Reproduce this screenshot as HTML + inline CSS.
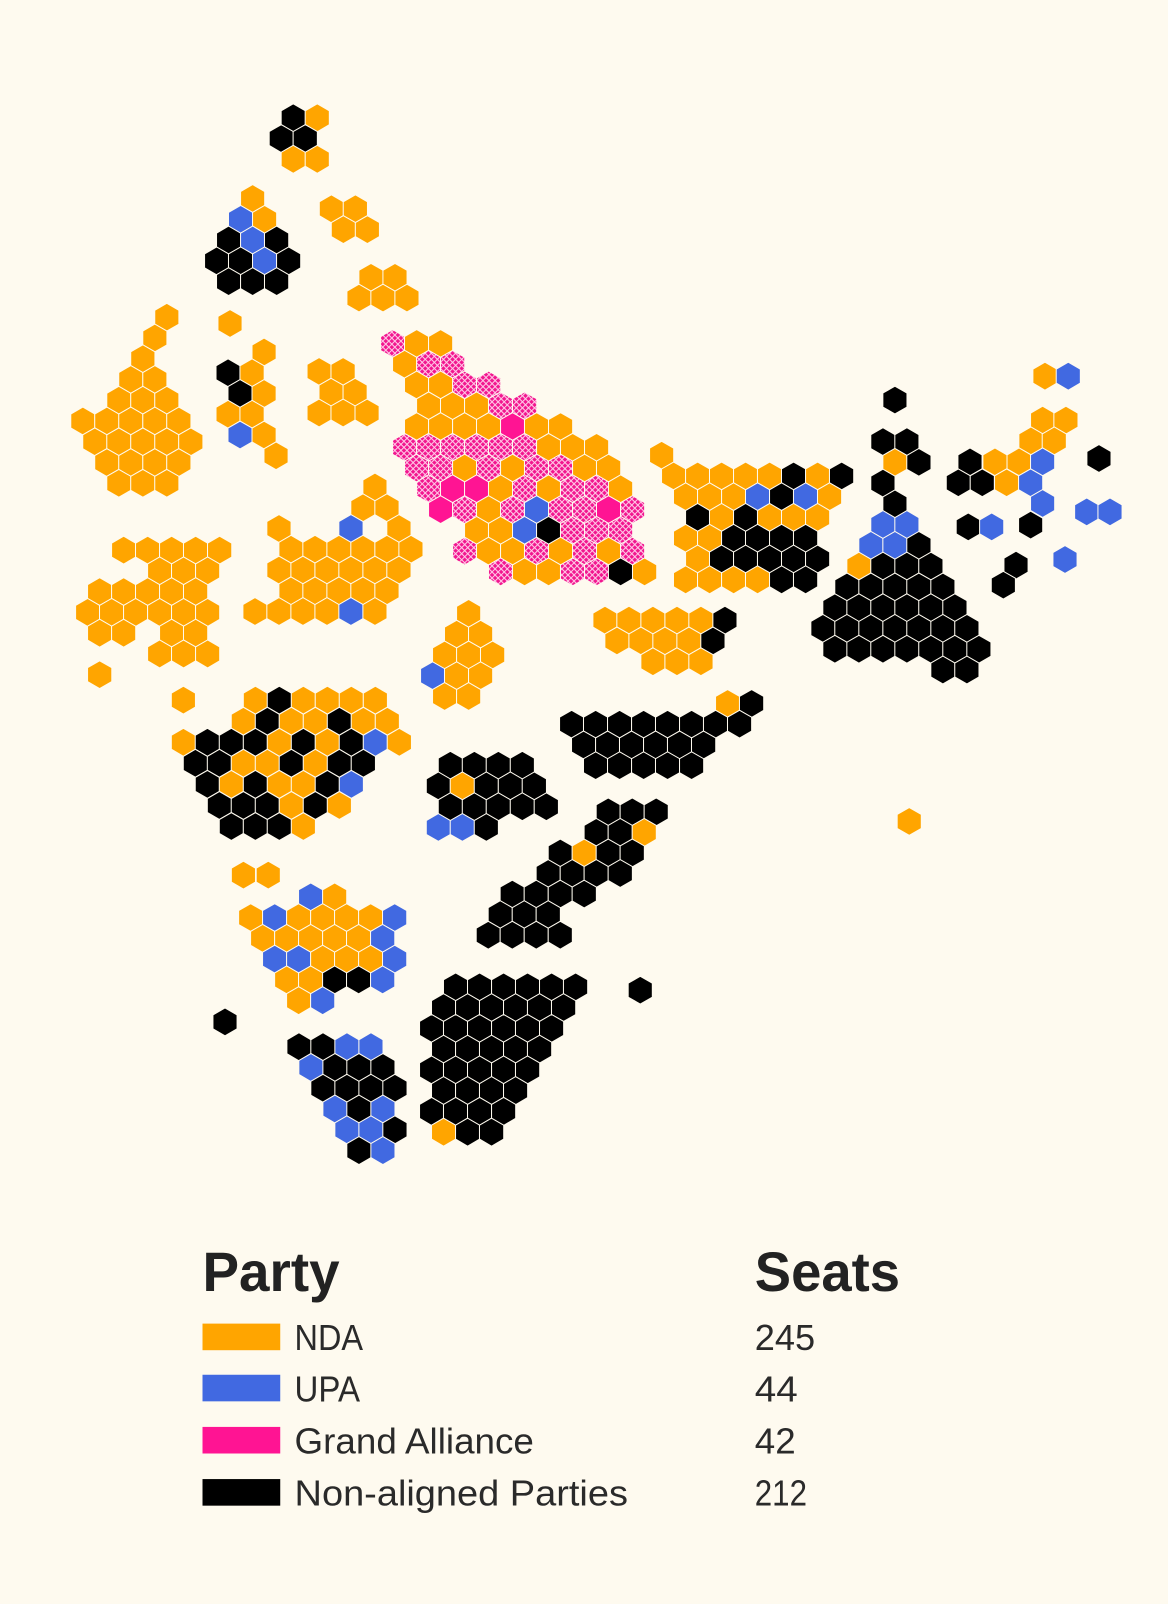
<!DOCTYPE html>
<html><head><meta charset="utf-8"><style>
html,body{margin:0;padding:0;background:#FEFAEF;}
svg{display:block;}
</style></head><body>
<svg id="s" width="1168" height="1604" viewBox="0 0 1142 1568" xmlns="http://www.w3.org/2000/svg">
<defs>
<pattern id="hp" width="4.2" height="4.2" patternUnits="userSpaceOnUse" patternTransform="rotate(45)">
<rect width="4.2" height="4.2" fill="#F2168F"/>
<path d="M0 0.5H4.2M0.5 0V4.2" stroke="#FFCCE8" stroke-width="1"/>
</pattern>
</defs>
<rect width="1142" height="1568" fill="#FEFAEF"/>
<g id="hexes"></g>
<g font-family="'Liberation Sans', sans-serif" fill="#222">
<text x="198" y="1262" font-size="54" font-weight="bold" textLength="134" lengthAdjust="spacingAndGlyphs">Party</text>
<text x="738" y="1262" font-size="54" font-weight="bold" textLength="142" lengthAdjust="spacingAndGlyphs">Seats</text>
<rect x="198" y="1294" width="76" height="26" fill="#FFA500"/>
<rect x="198" y="1344" width="76" height="26" fill="#4169E1"/>
<rect x="198" y="1395" width="76" height="26" fill="#FF1493"/>
<rect x="198" y="1446" width="76" height="26" fill="#000"/>
<g fill="#2a2a2a">
<text x="288" y="1320" font-size="35" textLength="67" lengthAdjust="spacingAndGlyphs">NDA</text>
<text x="288" y="1370" font-size="35" textLength="64" lengthAdjust="spacingAndGlyphs">UPA</text>
<text x="288" y="1421" font-size="35" textLength="234" lengthAdjust="spacingAndGlyphs">Grand Alliance</text>
<text x="288" y="1472" font-size="35" textLength="326" lengthAdjust="spacingAndGlyphs">Non-aligned Parties</text>
<text x="738" y="1320" font-size="35" textLength="59" lengthAdjust="spacingAndGlyphs">245</text>
<text x="738" y="1370" font-size="35" textLength="42" lengthAdjust="spacingAndGlyphs">44</text>
<text x="738" y="1421" font-size="35" textLength="40" lengthAdjust="spacingAndGlyphs">42</text>
<text x="738" y="1472" font-size="35" textLength="51" lengthAdjust="spacingAndGlyphs">212</text>
</g>
</g>
</svg>
<script>
(function(){
var COL={O:"#FFA500",B:"#4169E1",K:"#000000",M:"#FF1493",P:"url(#hp)"};
var R=13.65, HX=11.73;
var out=[];
function hex(x,y,c){
  var p=[];
  for(var i=0;i<6;i++){var a=Math.PI/180*(60*i-90);p.push((x+R*Math.cos(a)).toFixed(1)+","+(y+R*Math.sin(a)).toFixed(1));}
  out.push('<polygon points="'+p.join(" ")+'" fill="'+COL[c]+'" stroke="#FEFAEF" stroke-width="1"/>');
}
function cl(ox,oy,dy,rows){
  rows.forEach(function(r,i){for(var j=0;j<r.length;j++){var c=r[j];if(COL[c])hex(ox+j*HX,oy+i*dy,c);}});
}
cl(275,115,20.3,[" K O","K K"," O O"]);
cl(211.8,194,20.3,["   O","  B O"," K B K","K K B K"," K K K"]);
cl(324,204,20.3,["O O"," O O"]);
cl(351,271,20.3,[" O O","O O O"]);
hex(224.9,316.1,"O");
cl(81,310,20.3,["       O","      O","     O","    O O","   O O O","O O O O O"," O O O O O","  O O O O","   O O O"]);
cl(223,344,20.3,["   O","K O"," K O","O O"," B O","    O"]);
cl(312,363,20.3,["O O"," O O","O O O"]);
cl(383.9,335.7,20.3,["P O O"," O P P","  O O P P","   O O O P P","  O O O O M O O"," P P P P P P O O O","  P P O P O P P O O","   P M M O P O P P O","    M P O P B P P M P","       O O B K P P P","      P O O P O P O P","         P O O P P K O"]);
cl(249.3,476,20.3,["          O","         O O","  O     B   O","   O O O O O O","  O O O O O O","   O O O O O","O O O O B O"]);
cl(85.7,537.7,20.3,["   O O O O O","      O O O"," O O O O O","O O O O O O"," O O   O O","      O O O"," O"]);
cl(423,599.6,20.3,["   O","  O O"," O O O","B O O"," O O"]);
cl(646.9,444.9,20.3,["O"," O O O O O K O K","  O O O B K B O","   K O K O O O","  O O K K K K","   O K K K K K","  O O O O K K"]);
cl(804.6,391,20.3,["      K","","     K K","      O K","     K","      K","     B B","    B B K","   O K K K","  K K K K K"," K K K K K K","K K K K K K K"," K K K K K K K","          K K"]);
[[1021.7,367.6,"O"],[1044.5,367.6,"B"],[1019.4,410.6,"O"],[1042.2,410.6,"O"],[1008,430.9,"O"],[1030.8,430.9,"O"],
 [948.4,451.4,"K"],[972.8,451.4,"O"],[996.4,451.4,"O"],[1019.4,451.4,"B"],[1074.5,448.1,"K"],
 [937,471.9,"K"],[960.4,471.9,"K"],[984.2,471.9,"O"],[1007.7,471.9,"B"],[1019.4,492.1,"B"],
 [1062.5,500.3,"B"],[1085.3,500.3,"B"],[946.7,515,"K"],[969.6,515,"B"],[1007.7,513.3,"K"],
 [1041.3,546.9,"B"],[993.4,552.4,"K"],[981,572,"K"],
 [889,803,"O"],[626,968,"K"],[238,855.5,"O"],[262.3,855.5,"O"],[220,999,"K"]].forEach(function(h){hex(h[0],h[1],h[2]);});
cl(591.5,606.2,20.3,["O O O O O K"," O O O O K","    O O O"]);
cl(558.9,687.6,20.3,["             O K","K K K K K K K K"," K K K K K K","  K K K K K"]);
cl(179.3,684.4,20.6,["O     O K O O O O","     O K O O K O O","O K K K O K O K B O"," K K O O K O K K","  K O K O O K B","   K K K O K O","    K K K O"]);
cl(428.6,748,20.3,[" K K K K","K O K K K"," K K K K K","B B K"]);
cl(477.4,793.6,20.1,["          K K K","         K K O","      K O K K","     K K K K","  K K K K"," K K K","K K K K"]);
cl(245.1,876.7,20.3,["     B O","O B O O O O B"," O O O O O B","  B B O O O B","   O O K K B","    O B"]);
cl(292.3,1023.3,20.3,["K K B B"," B K K K","  K K K K","   B K B","    B B K","     K B"]);
cl(422,964.7,20.3,["  K K K K K K"," K K K K K K","K K K K K K"," K K K K K","K K K K K"," K K K K","K K K K"," O K K"]);
document.getElementById("hexes").innerHTML=out.join("");
})();
</script>
</body></html>
